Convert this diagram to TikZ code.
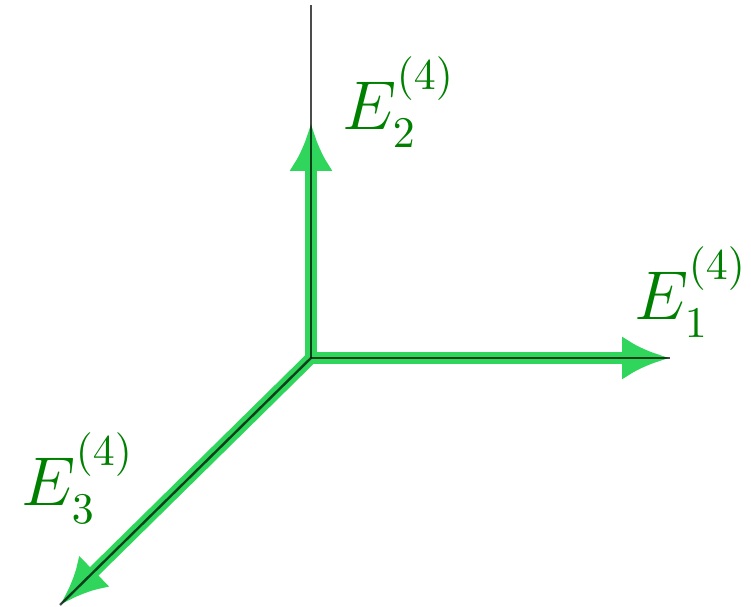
\documentclass[tikz,border=0pt]{standalone}
\usetikzlibrary{arrows.meta}
\definecolor{arrowgreen}{RGB}{48,214,92}
\definecolor{labelgreen}{RGB}{0,128,0}
\newcommand{\suplab}[1]{\raisebox{0.24em}{$\scriptstyle #1$}}
\tikzset{
  axisline/.style={black, line width=0.6pt, opacity=0.7},
  vecarrow/.style={arrowgreen, line width=3pt, -{Latex[length=12pt,width=11pt]}},
  veclabel/.style={labelgreen, font=\fontsize{16}{20}\selectfont, inner sep=0pt, anchor=base west}
}
\begin{document}
\begin{tikzpicture}[x=0.25pt,y=-0.25pt]
\useasboundingbox (0,0) rectangle (751,607);
\coordinate (O) at (311,358);
\coordinate (Ytop) at (311,5);
\coordinate (Xend) at (670,358);
\coordinate (Zend) at (60,605);
\coordinate (E2tip) at (311,123);
\draw[vecarrow] (O) -- (Xend);
\draw[vecarrow] (O) -- (E2tip);
\draw[vecarrow] (O) -- (Zend);
\draw[axisline] (O) -- (Ytop);
\draw[axisline] (O) -- (Xend);
\draw[axisline] (O) -- (Zend);
\node[veclabel] (l1) at (634,320) {$E_1^{\suplab{(4)}}$};
\node[veclabel] (l2) at (342,130) {$E_2^{\suplab{(4)}}$};
\node[veclabel] (l3) at (21,506) {$E_3^{\suplab{(4)}}$};
\end{tikzpicture}
\end{document}
